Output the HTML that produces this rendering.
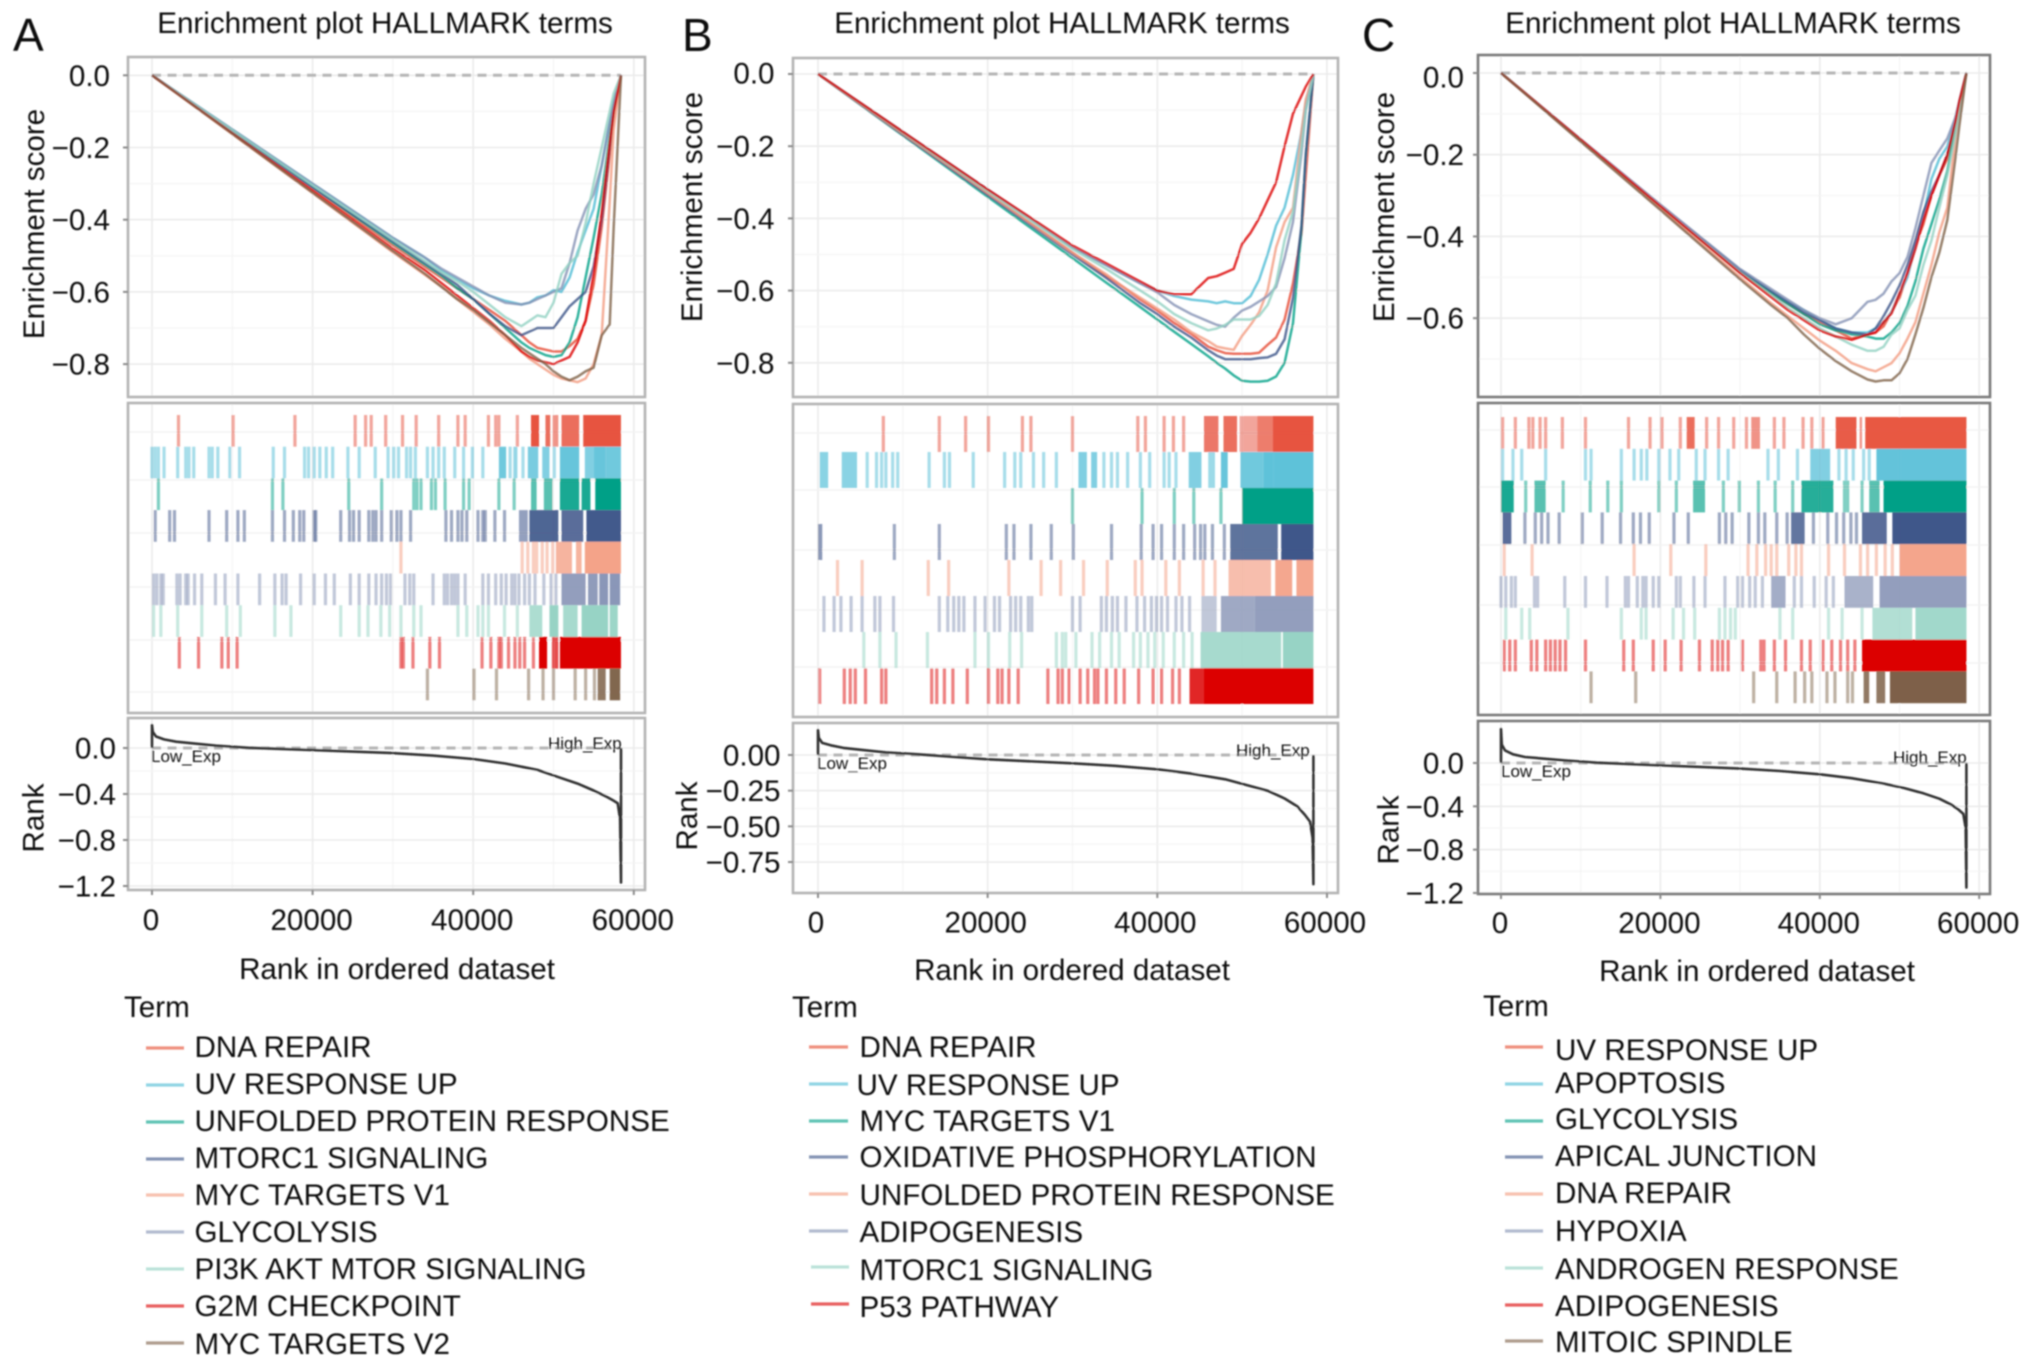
<!DOCTYPE html>
<html lang="en">
<head>
<meta charset="utf-8">
<title>Enrichment plots of HALLMARK terms</title>
<style>
html,body{margin:0;padding:0;background:#fff;}
svg{display:block;}
text{font-family:"Liberation Sans",Arial,sans-serif;fill:#111;font-size:29.6px;}
.ltr{font-size:46px;}
.ann{font-size:17px;}
.lg{stroke-width:3.2;opacity:.62;}
</style>
</head>
<body>
<svg id="fig" xmlns="http://www.w3.org/2000/svg" width="2032" height="1368" viewBox="0 0 2032 1368">
<defs><filter id="soft" filterUnits="userSpaceOnUse" x="0" y="0" width="2032" height="1368"><feGaussianBlur stdDeviation="0.7"/></filter></defs>
<rect width="2032" height="1368" fill="#fff"/>
<g id="root" filter="url(#soft)">
<g id="plotA"></g>
<g id="plotB"></g>
<g id="plotC"></g>

<text class="ltr" x="13" y="51">A</text>
<text class="ltr" x="682" y="51">B</text>
<text class="ltr" x="1362" y="51">C</text>

<text x="385" y="33" text-anchor="middle">Enrichment plot HALLMARK terms</text>
<text x="1062" y="33" text-anchor="middle">Enrichment plot HALLMARK terms</text>
<text x="1733" y="33" text-anchor="middle">Enrichment plot HALLMARK terms</text>

<text transform="translate(44,224) rotate(-90)" text-anchor="middle">Enrichment score</text>
<text transform="translate(702,207) rotate(-90)" text-anchor="middle">Enrichment score</text>
<text transform="translate(1394,207) rotate(-90)" text-anchor="middle">Enrichment score</text>
<text transform="translate(43.5,818) rotate(-90)" text-anchor="middle">Rank</text>
<text transform="translate(697,816) rotate(-90)" text-anchor="middle">Rank</text>
<text transform="translate(1398.5,830) rotate(-90)" text-anchor="middle">Rank</text>

<text x="397" y="979" text-anchor="middle">Rank in ordered dataset</text>
<text x="1072" y="980" text-anchor="middle">Rank in ordered dataset</text>
<text x="1757" y="981" text-anchor="middle">Rank in ordered dataset</text>

<text class="ann" x="151" y="762">Low_Exp</text>
<text class="ann" x="548" y="749">High_Exp</text>
<text class="ann" x="817" y="769">Low_Exp</text>
<text class="ann" x="1236" y="756">High_Exp</text>
<text class="ann" x="1501" y="777">Low_Exp</text>
<text class="ann" x="1893" y="763">High_Exp</text>

<g>
<text x="124" y="1017">Term</text>
<g><line class="lg" x1="146" x2="184" y1="1048" y2="1048" stroke="#E64B35"/><text x="194.5" y="1057">DNA REPAIR</text></g>
<g><line class="lg" x1="146" x2="184" y1="1085" y2="1085" stroke="#4DBBD5"/><text x="194.5" y="1094">UV RESPONSE UP</text></g>
<g><line class="lg" x1="146" x2="184" y1="1122" y2="1122" stroke="#00A087"/><text x="194.5" y="1131">UNFOLDED PROTEIN RESPONSE</text></g>
<g><line class="lg" x1="146" x2="184" y1="1159" y2="1159" stroke="#3C5488"/><text x="194.5" y="1168">MTORC1 SIGNALING</text></g>
<g><line class="lg" x1="146" x2="184" y1="1195" y2="1195" stroke="#F39B7F"/><text x="194.5" y="1205">MYC TARGETS V1</text></g>
<g><line class="lg" x1="146" x2="184" y1="1232" y2="1232" stroke="#8491B4"/><text x="194.5" y="1242">GLYCOLYSIS</text></g>
<g><line class="lg" x1="146" x2="184" y1="1269" y2="1269" stroke="#91D1C2"/><text x="194.5" y="1279">PI3K AKT MTOR SIGNALING</text></g>
<g><line class="lg" x1="146" x2="184" y1="1306" y2="1306" stroke="#DC0000"/><text x="194.5" y="1316">G2M CHECKPOINT</text></g>
<g><line class="lg" x1="146" x2="184" y1="1343" y2="1343" stroke="#7E6148"/><text x="194.5" y="1354">MYC TARGETS V2</text></g>
</g>

<g>
<text x="792" y="1017">Term</text>
<g><line class="lg" x1="809" x2="848" y1="1047" y2="1047" stroke="#E64B35"/><text x="859.5" y="1057">DNA REPAIR</text></g>
<g><line class="lg" x1="809" x2="848" y1="1084" y2="1084" stroke="#4DBBD5"/><text x="856.5" y="1095">UV RESPONSE UP</text></g>
<g><line class="lg" x1="809" x2="848" y1="1121" y2="1121" stroke="#00A087"/><text x="859.5" y="1131">MYC TARGETS V1</text></g>
<g><line class="lg" x1="809" x2="848" y1="1157" y2="1157" stroke="#3C5488"/><text x="859.5" y="1167">OXIDATIVE PHOSPHORYLATION</text></g>
<g><line class="lg" x1="809" x2="848" y1="1194" y2="1194" stroke="#F39B7F"/><text x="859.5" y="1205">UNFOLDED PROTEIN RESPONSE</text></g>
<g><line class="lg" x1="809" x2="848" y1="1231" y2="1231" stroke="#8491B4"/><text x="859.5" y="1242">ADIPOGENESIS</text></g>
<g><line class="lg" x1="811" x2="849" y1="1267" y2="1267" stroke="#91D1C2"/><text x="859.5" y="1280">MTORC1 SIGNALING</text></g>
<g><line class="lg" x1="811" x2="849" y1="1304" y2="1304" stroke="#DC0000"/><text x="859.5" y="1317">P53 PATHWAY</text></g>
</g>

<g>
<text x="1483" y="1016">Term</text>
<g><line class="lg" x1="1505" x2="1543" y1="1047" y2="1047" stroke="#E64B35"/><text x="1555" y="1060">UV RESPONSE UP</text></g>
<g><line class="lg" x1="1505" x2="1543" y1="1084" y2="1084" stroke="#4DBBD5"/><text x="1555" y="1093">APOPTOSIS</text></g>
<g><line class="lg" x1="1505" x2="1543" y1="1121" y2="1121" stroke="#00A087"/><text x="1555" y="1129">GLYCOLYSIS</text></g>
<g><line class="lg" x1="1505" x2="1543" y1="1157" y2="1157" stroke="#3C5488"/><text x="1555" y="1166">APICAL JUNCTION</text></g>
<g><line class="lg" x1="1505" x2="1543" y1="1194" y2="1194" stroke="#F39B7F"/><text x="1555" y="1203">DNA REPAIR</text></g>
<g><line class="lg" x1="1505" x2="1543" y1="1231" y2="1231" stroke="#8491B4"/><text x="1555" y="1241">HYPOXIA</text></g>
<g><line class="lg" x1="1505" x2="1543" y1="1268" y2="1268" stroke="#91D1C2"/><text x="1555" y="1279">ANDROGEN RESPONSE</text></g>
<g><line class="lg" x1="1505" x2="1543" y1="1305" y2="1305" stroke="#DC0000"/><text x="1555" y="1316">ADIPOGENESIS</text></g>
<g><line class="lg" x1="1505" x2="1543" y1="1341" y2="1341" stroke="#7E6148"/><text x="1555" y="1352">MITOIC SPINDLE</text></g>
</g>
</g>
</svg>

<script>
// ===== Shared axis data (ranks in thousands) =====
const xTickRanks = [0, 20, 40, 60];
const xTickLabels = ["0", "20000", "40000", "60000"];
const xMinorRanks = [10, 30, 50];
const esRanks = [0,10,20,30,34,36,38,40,42,44,46,47,48,49,50,51,52,53,54,55,56,57,57.5,58.4];
const rankCurveRanks = [0,0.1,0.5,1.5,3,8,12,20,30,35,40,44,48,50.5,53,55,56.5,57.4,58,58.3,58.4];

// ===== Panel A running enrichment scores =====
const esA_dnaRepair = [0,-.157,-.315,-.47,-.53,-.56,-.59,-.62,-.65,-.68,-.72,-.74,-.755,-.76,-.765,-.765,-.75,-.73,-.68,-.58,-.42,-.22,-.11,0];
const esA_uvResponseUp = [0,-.15,-.30,-.45,-.505,-.54,-.565,-.59,-.61,-.625,-.635,-.63,-.615,-.61,-.595,-.60,-.56,-.49,-.43,-.37,-.25,-.13,-.07,0];
const esA_unfoldedProtein = [0,-.155,-.31,-.465,-.525,-.555,-.59,-.62,-.66,-.70,-.74,-.755,-.765,-.775,-.78,-.775,-.74,-.67,-.56,-.45,-.33,-.17,-.09,0];
const esA_mtorc1 = [0,-.155,-.31,-.46,-.52,-.55,-.58,-.62,-.66,-.695,-.72,-.71,-.70,-.70,-.70,-.67,-.64,-.62,-.60,-.53,-.40,-.20,-.10,0];
const esA_mycV1 = [0,-.163,-.326,-.49,-.553,-.585,-.62,-.655,-.69,-.73,-.765,-.785,-.80,-.815,-.83,-.84,-.845,-.85,-.84,-.80,-.72,-.35,-.15,0];
const esA_glycolysis = [0,-.15,-.30,-.45,-.505,-.535,-.56,-.585,-.61,-.63,-.635,-.63,-.62,-.61,-.60,-.59,-.52,-.43,-.37,-.33,-.25,-.13,-.07,0];
const esA_pi3k = [0,-.152,-.305,-.455,-.515,-.545,-.57,-.60,-.635,-.67,-.695,-.68,-.665,-.67,-.63,-.55,-.52,-.50,-.41,-.30,-.20,-.10,-.05,0];
const esA_g2m = [0,-.16,-.32,-.48,-.54,-.575,-.61,-.645,-.68,-.72,-.765,-.78,-.79,-.795,-.80,-.79,-.78,-.74,-.68,-.55,-.38,-.19,-.10,0];
const esA_mycV2 = [0,-.162,-.325,-.487,-.55,-.585,-.62,-.65,-.685,-.72,-.755,-.77,-.785,-.80,-.82,-.835,-.845,-.835,-.82,-.81,-.72,-.69,-.42,0];

// ===== Panel B running enrichment scores =====
const esB_dnaRepair = [0,-.165,-.33,-.495,-.56,-.59,-.625,-.655,-.69,-.72,-.755,-.765,-.773,-.775,-.775,-.775,-.772,-.75,-.73,-.68,-.58,-.44,-.28,0];
const esB_uvResponseUp = [0,-.16,-.32,-.48,-.53,-.555,-.58,-.60,-.615,-.625,-.63,-.635,-.63,-.635,-.635,-.615,-.57,-.50,-.42,-.37,-.28,-.16,-.08,0];
const esB_mycV1 = [0,-.17,-.34,-.51,-.578,-.612,-.646,-.68,-.714,-.748,-.782,-.80,-.816,-.835,-.85,-.852,-.852,-.85,-.838,-.80,-.69,-.43,-.23,0];
const esB_oxphos = [0,-.168,-.335,-.50,-.565,-.60,-.635,-.665,-.70,-.73,-.765,-.78,-.79,-.79,-.79,-.79,-.787,-.785,-.775,-.735,-.62,-.42,-.22,0];
const esB_unfoldedProtein = [0,-.165,-.33,-.495,-.555,-.59,-.62,-.65,-.68,-.715,-.74,-.755,-.76,-.764,-.725,-.695,-.66,-.60,-.48,-.41,-.37,-.16,-.07,0];
const esB_adipogenesis = [0,-.16,-.32,-.48,-.53,-.555,-.58,-.605,-.64,-.665,-.685,-.695,-.70,-.675,-.655,-.645,-.63,-.615,-.59,-.51,-.41,-.22,-.10,0];
const esB_mtorc1 = [0,-.162,-.325,-.485,-.54,-.57,-.60,-.63,-.665,-.69,-.71,-.705,-.695,-.68,-.68,-.68,-.67,-.64,-.58,-.46,-.38,-.20,-.10,0];
const esB_p53 = [0,-.16,-.32,-.475,-.525,-.55,-.575,-.60,-.61,-.61,-.565,-.56,-.55,-.54,-.47,-.44,-.40,-.35,-.30,-.20,-.11,-.06,-.035,0];

// ===== Panel C running enrichment scores =====
const esC_uvResponseUp = [0,-.163,-.325,-.485,-.54,-.565,-.59,-.61,-.63,-.65,-.64,-.635,-.62,-.585,-.55,-.49,-.42,-.37,-.30,-.25,-.21,-.14,-.09,0];
const esC_apoptosis = [0,-.163,-.325,-.482,-.535,-.56,-.58,-.605,-.625,-.635,-.635,-.625,-.61,-.585,-.54,-.50,-.42,-.35,-.26,-.21,-.18,-.11,-.07,0];
const esC_glycolysis = [0,-.163,-.325,-.485,-.54,-.565,-.59,-.615,-.63,-.64,-.645,-.65,-.65,-.635,-.612,-.57,-.51,-.43,-.37,-.31,-.24,-.13,-.08,0];
const esC_apical = [0,-.163,-.325,-.482,-.535,-.56,-.585,-.605,-.625,-.635,-.64,-.625,-.595,-.56,-.52,-.47,-.41,-.34,-.29,-.25,-.20,-.12,-.07,0];
const esC_dnaRepair = [0,-.166,-.332,-.50,-.565,-.595,-.625,-.655,-.68,-.71,-.725,-.73,-.72,-.71,-.686,-.65,-.61,-.54,-.47,-.39,-.33,-.16,-.10,0];
const esC_hypoxia = [0,-.162,-.322,-.48,-.53,-.555,-.58,-.60,-.615,-.60,-.56,-.555,-.54,-.51,-.49,-.45,-.38,-.30,-.22,-.19,-.16,-.11,-.07,0];
const esC_androgen = [0,-.163,-.326,-.488,-.545,-.575,-.60,-.625,-.645,-.665,-.68,-.68,-.67,-.64,-.625,-.58,-.545,-.47,-.41,-.33,-.25,-.15,-.09,0];
const esC_adipogenesis = [0,-.163,-.326,-.49,-.55,-.58,-.605,-.63,-.645,-.653,-.64,-.635,-.61,-.588,-.54,-.49,-.43,-.36,-.30,-.25,-.20,-.12,-.07,0];
const esC_mitotic = [0,-.168,-.335,-.505,-.57,-.60,-.64,-.675,-.705,-.73,-.75,-.755,-.752,-.752,-.735,-.70,-.64,-.575,-.50,-.44,-.36,-.21,-.13,0];

// ===== Ranked metric curves =====
const rankCurveA = [.2,.14,.10,.075,.055,.02,.002,-.018,-.044,-.066,-.096,-.135,-.19,-.25,-.31,-.37,-.42,-.455,-.48,-.62,-1.17];
const rankCurveB = [.175,.12,.085,.068,.05,.018,.004,-.03,-.058,-.076,-.10,-.13,-.17,-.21,-.25,-.305,-.36,-.42,-.467,-.58,-.905];
const rankCurveC = [.315,.17,.116,.08,.055,.024,.003,-.021,-.052,-.074,-.104,-.14,-.19,-.23,-.28,-.33,-.385,-.43,-.47,-.6,-1.15];

// ===== Y tick values and labels =====
const esTicksA = [0,-.2,-.4,-.6,-.8];
const esTickLabelsA = ["0.0","\u22120.2","\u22120.4","\u22120.6","\u22120.8"];
const esMinorA = [-.1,-.3,-.5,-.7];
const esTicksB = [0,-.2,-.4,-.6,-.8];
const esTickLabelsB = ["0.0","\u22120.2","\u22120.4","\u22120.6","\u22120.8"];
const esMinorB = [-.1,-.3,-.5,-.7];
const esTicksC = [0,-.2,-.4,-.6];
const esTickLabelsC = ["0.0","\u22120.2","\u22120.4","\u22120.6"];
const esMinorC = [-.1,-.3,-.5,-.7];
const rankTicksA = [0,-.4,-.8,-1.2];
const rankTickLabelsA = ["0.0","\u22120.4","\u22120.8","\u22121.2"];
const rankMinorA = [-.2,-.6,-1.0];
const rankTicksB = [0,-.25,-.5,-.75];
const rankTickLabelsB = ["0.00","\u22120.25","\u22120.50","\u22120.75"];
const rankMinorB = [-.125,-.375,-.625];
const rankTicksC = [0,-.4,-.8,-1.2];
const rankTickLabelsC = ["0.0","\u22120.4","\u22120.8","\u22121.2"];
const rankMinorC = [-.2,-.6,-1.0];

// ===== Panel A rug hits (ranks in thousands); runs are [start,end,hit density] =====
const rugA_dnaRepair = [3.3,10.1,17.8,25.3,26.6,27.3,29.1,31.2,32.9,35.7,38.1,39.0,41.9,42.8,43.2,45.5];
const blocksA_dnaRepair = [[47.2,48.2,.95],[49.0,49.6,.8],[49.9,50.6,.6],[51.0,53.2,.8],[53.7,58.4,.95]];
const rugA_uvResponseUp = [0,.4,.8,1.5,3.2,4.2,4.6,5.2,7.1,7.5,8.2,9.7,10.9,15.1,16.5,19.0,19.5,20.2,20.9,21.7,22.5,24.4,25.8,27.8,29.4,30.1,30.7,31.7,32.2,32.8,34.3,35.0,35.7,36.4,37.7,38.8,39.9,41.2,44.6,46.2];
const blocksA_uvResponseUp = [[43.2,44.1,.8],[45.0,45.5,.6],[46.8,48.1,.75],[48.6,49.5,.7],[49.9,50.3,.5],[50.8,53.2,.85],[53.9,55,.7],[55,56.5,.85],[56.5,58.4,.8]];
const rugA_unfoldedProtein = [.8,15.0,16.3,24.5,28.6,32.6,33.0,33.5,34.8,35.3,36.5,38.8,39.5,43.2,45.1];
const blocksA_unfoldedProtein = [[47.2,47.9,.65],[48.8,49.9,.65],[50.8,53.2,.9],[53.5,54.6,.9],[55.2,58.4,1]];
const rugA_mtorc1 = [.4,2.2,2.8,7.1,9.3,10.7,11.5,15.0,16.5,17.6,18.4,18.9,20.2,20.4,23.5,24.6,25.1,25.8,27.0,27.5,27.9,28.6,29.8,30.5,31.0,32.2,36.6,37.3,38.1,38.6,39.2,40.6,41.2,41.5,42.7,43.9];
const blocksA_mtorc1 = [[45.7,46.8,.55],[47.0,50.6,.9],[51.0,53.7,.85],[54.1,58.4,.97]];
const rugA_mycV1 = [31.0,46.1,46.8,47.5,47.9,48.6,49.2,49.9];
const blocksA_mycV1 = [[50.3,52.3,.75],[52.8,53.5,.75],[53.9,58.4,.92]];
const rugA_glycolysis = [.2,.6,1.1,1.4,3.1,3.5,4.2,4.5,5.3,6.2,7.9,9.1,10.7,13.4,15.3,16.2,16.7,18.5,20.2,21.6,22.7,24.7,25.8,27.0,27.9,28.6,29.2,29.7,31.5,32.1,32.6,35.0,36.4,36.8,37.3,37.7,38.1,39.0,41.2,41.9,42.8,43.5,44.1,44.8,45.2,45.7,46.4,47.0,47.7,48.8,49.7,50.3];
const blocksA_glycolysis = [[51.0,54.0,.88],[54.3,55.5,.9],[55.7,56.8,.95],[57.0,58.3,.95]];
const rugA_pi3k = [.2,1.1,3.2,6.2,9.3,11.0,15.3,17.3,23.5,25.8,26.9,28.5,29.6,31.0,32.6,33.5,38.1,39.2,40.6,41.2,41.9,43.9,45.5];
const blocksA_pi3k = [[47.0,48.6,.75],[49.5,50.6,.95],[51.2,53.0,.8],[53.5,56.8,.95],[57.0,58.0,.9]];
const rugA_g2m = [3.4,5.8,8.7,9.5,10.6,31.0,31.3,32.5,34.6,35.8,41.1,42.2,43.2,43.5,44.4,45.2,45.8,46.4,47.5];
const blocksA_g2m = [[48.2,49.2,1],[49.8,50.6,.7],[50.8,58.4,1]];
const rugA_mycV2 = [34.3,40.1,42.9,46.9,48.7,50.0,52.7,54.0,55.1];
const blocksA_mycV2 = [[55.5,56.5,.85],[57.0,58.3,.97]];

// ===== Panel B rug hits =====
const rugB_dnaRepair = [7.7,14.3,17.4,20.1,24.1,25.1,30.0,37.7,38.6,40.8,41.9,43.1];
const blocksB_dnaRepair = [[45.5,47.2,.75],[47.8,49.4,.8],[49.7,51.8,.5],[51.8,53.6,.72],[53.6,58.4,.95]];
const rugB_uvResponseUp = [5.8,6.9,7.5,8.0,8.8,9.4,13.1,14.9,15.5,18.3,22.0,23.2,23.9,25.4,26.6,28.1,33.7,34.6,35.3,36.5,38.0,39.1,40.8,41.4,42.2];
const blocksB_uvResponseUp = [[.2,1.2,.65],[2.8,4.6,.65],[30.7,31.7,.7],[32.2,32.9,.7],[43.7,45.2,.7],[46.0,46.8,.55],[47.5,48.3,.85],[49.8,52.5,.8],[52.5,53.7,.9],[53.7,58.4,.9]];
const rugB_mycV1 = [30.0,38.2,42.0,44.3,47.5];
const blocksB_mycV1 = [[50.0,58.4,1]];
const rugB_oxphos = [9.0,14.3,22.2,23.1,25.1,27.5,30.1,34.6,38.1,39.5,40.5,42.0,43.1,44.4,45.1,45.6,46.5,47.9];
const blocksB_oxphos = [[0,.5,.6],[48.6,54.2,.82],[54.6,58.4,.98]];
const rugB_unfoldedProtein = [2.3,5.2,13.0,15.4,22.5,26.3,28.6,31.3,34.1,37.4,38.2,41.0,42.6,45.4,46.8];
const blocksB_unfoldedProtein = [[48.4,53.4,.65],[53.9,55.9,.88],[56.4,58.4,.88]];
const rugB_adipogenesis = [.7,1.9,2.7,3.9,5.2,6.7,7.3,8.9,14.3,15.3,16.0,16.6,17.2,18.5,19.7,20.8,21.4,22.7,23.3,23.9,24.8,25.2,30.0,30.9,33.4,34.0,34.7,35.3,36.3,37.6,38.5,39.3,39.9,40.5,41.2,42.2,42.9,43.8];
const blocksB_adipogenesis = [[45.2,47,.5],[47.5,51.5,.78],[51.5,58.4,.88]];
const rugB_mtorc1 = [5.4,7.3,9.2,12.9,18.5,20.1,22.6,24.0,28.1,28.8,29.2,30.4,32.3,33.2,34.6,35.5,37.2,38.0,38.9,39.7,40.7,42.0,43.1,44.1];
const blocksB_mtorc1 = [[45.1,54.6,.8],[54.8,58.4,.95]];
const rugB_p53 = [.2,3.1,3.8,4.4,5.6,7.5,8.0,13.4,14.0,14.9,15.9,17.6,20.1,21.2,21.7,22.5,23.6,27.1,28.3,28.8,29.6,30.9,31.8,32.6,33.0,34.0,35.1,36.1,37.8,39.5,40.5,41.8,42.6];
const blocksB_p53 = [[43.8,45.5,.85],[45.5,58.4,1]];

// ===== Panel C rug hits =====
const rugC_uvResponseUp = [.2,1.8,3.5,4.0,4.9,5.6,7.7,10.6,16.0,18.7,20.2,22.5,25.8,27.3,29.2,30.8,34.3,35.5,37.9,39.0,40.4];
const blocksC_uvResponseUp = [[23.3,24.3,.8],[31.4,32.5,.6],[42.0,44.6,.9],[45.0,45.3,.6],[45.7,58.4,.93]];
const rugC_apoptosis = [.2,1.5,2.6,5.6,10.6,11.3,15.1,16.7,17.6,18.3,19.8,21.2,22.3,24.5,25.6,27.3,28.5,33.5,34.8,37.2,42.4,43.3,44.2,45.5,46.2];
const blocksC_apoptosis = [[38.8,41.3,.7],[47.1,58.4,.88]];
const rugC_glycolysis = [3.1,7.8,11.2,13.4,15.1,19.8,22.0,27.9,29.9,32.3,34.4,36.6,43.1,43.5,45.3];
const blocksC_glycolysis = [[0,1.6,.9],[4.2,5.6,.65],[24.1,25.6,.65],[37.7,41.7,.85],[46.2,47.5,.65],[48.0,58.4,1]];
const rugC_apical = [3.0,4.3,5.1,5.9,7.3,10.2,12.7,15.0,16.6,17.5,18.6,21.7,23.5,27.4,28.2,29.0,31.1,32.3,33.1,34.6,35.9,39.2,41.0,42.1,43.0,43.9,44.6];
const blocksC_apical = [[.2,1.3,.85],[36.4,38.1,.8],[45.3,48.4,.85],[49.1,58.4,.98]];
const rugC_dnaRepair = [.4,3.9,16.7,21.3,25.7,31.0,32.1,33.2,33.9,34.6,36.1,37.0,37.7,41.1,43.1,45.1,46.0,47.1,48.2,49.1];
const blocksC_dnaRepair = [[50.0,58.4,.9]];
const rugC_hypoxia = [0,.6,1.3,1.8,4.2,4.6,8.0,10.6,13.3,15.6,16.0,17.1,17.8,18.2,19.1,19.8,22.0,22.5,24.2,25.6,28.1,29.7,30.3,31.2,31.9,32.8,36.8,37.7,39.3,40.8,41.7];
const blocksC_hypoxia = [[33.9,35.7,.75],[43.1,46.7,.7],[47.5,58.4,.88]];
const rugC_androgen = [.6,2.6,3.6,8.4,15.1,17.6,18.2,21.6,22.9,24.3,27.4,28.1,28.8,29.4,35.0,36.6,41.1,42.8,45.3];
const blocksC_androgen = [[46.6,51.6,.7],[52.0,58.4,.85]];
const rugC_adipogenesis = [.4,1.1,1.8,3.8,4.5,5.6,6.2,6.8,7.4,8.1,10.6,15.4,16.6,19.1,20.6,22.6,24.9,26.5,27.2,27.8,28.5,30.3,32.6,33.0,34.3,35.7,37.7,38.8,40.4,41.5,42.6,43.5,44.4];
const blocksC_adipogenesis = [[45.3,58.4,1]];
const rugC_mitotic = [11.3,16.9,31.7,34.6,36.9,38.1,39.0,40.9,41.9,43.5,44.1];
const blocksC_mitotic = [[45.5,46.2,.85],[47.1,48.2,.85],[48.8,58.4,1]];

// ===== Palette and layout (not data) =====
const npg = ["#E64B35","#4DBBD5","#00A087","#3C5488","#F39B7F","#8491B4","#91D1C2","#DC0000","#7E6148"];
const NS = "http://www.w3.org/2000/svg";

const panels = [
  { id:"plotA", key:"a", border:"#b4b4b4", x0:152, perK:8.03, xLabelDx:-1,
    L:128, R:645,
    top:{T:57,B:397,y0:75.3,perUnit:361,lblR:110,firstNudge:0},
    mid:{T:403,B:713,rowTop:415,rowH:31.7,grid:[432,480,533,587,640,692]},
    bot:{T:718,B:890,y0:748,perUnit:115,lblR:116,firstNudge:0},
    xLabelY:930,
    es:[esA_dnaRepair,esA_uvResponseUp,esA_unfoldedProtein,esA_mtorc1,esA_mycV1,esA_glycolysis,esA_pi3k,esA_g2m,esA_mycV2],
    rugs:[rugA_dnaRepair,rugA_uvResponseUp,rugA_unfoldedProtein,rugA_mtorc1,rugA_mycV1,rugA_glycolysis,rugA_pi3k,rugA_g2m,rugA_mycV2],
    blocks:[blocksA_dnaRepair,blocksA_uvResponseUp,blocksA_unfoldedProtein,blocksA_mtorc1,blocksA_mycV1,blocksA_glycolysis,blocksA_pi3k,blocksA_g2m,blocksA_mycV2],
    rankCurve:rankCurveA, esTicks:esTicksA, esLabels:esTickLabelsA, esMinor:esMinorA,
    rankTicks:rankTicksA, rankLabels:rankTickLabelsA, rankMinor:rankMinorA },
  { id:"plotB", key:"b", border:"#b4b4b4", x0:818, perK:8.483, xLabelDx:-2,
    L:793, R:1338,
    top:{T:58,B:397,y0:74,perUnit:361,lblR:774.5,firstNudge:-1},
    mid:{T:404,B:717,rowTop:416,rowH:36,grid:[433,490,550,610,667]},
    bot:{T:723,B:893,y0:755,perUnit:142.7,lblR:780.5,firstNudge:0},
    xLabelY:932.5,
    es:[esB_dnaRepair,esB_uvResponseUp,esB_mycV1,esB_oxphos,esB_unfoldedProtein,esB_adipogenesis,esB_mtorc1,esB_p53],
    rugs:[rugB_dnaRepair,rugB_uvResponseUp,rugB_mycV1,rugB_oxphos,rugB_unfoldedProtein,rugB_adipogenesis,rugB_mtorc1,rugB_p53],
    blocks:[blocksB_dnaRepair,blocksB_uvResponseUp,blocksB_mycV1,blocksB_oxphos,blocksB_unfoldedProtein,blocksB_adipogenesis,blocksB_mtorc1,blocksB_p53],
    rankCurve:rankCurveB, esTicks:esTicksB, esLabels:esTickLabelsB, esMinor:esMinorB,
    rankTicks:rankTicksB, rankLabels:rankTickLabelsB, rankMinor:rankMinorB },
  { id:"plotC", key:"c", border:"#7a7a7a", x0:1501, perK:7.97, xLabelDx:-1,
    L:1478, R:1990,
    top:{T:55,B:397,y0:73,perUnit:408.6,lblR:1464,firstNudge:4},
    mid:{T:403,B:715,rowTop:417,rowH:31.8,grid:[430,487,545,605,663]},
    bot:{T:721,B:894,y0:763,perUnit:108.3,lblR:1464,firstNudge:0},
    xLabelY:933,
    es:[esC_uvResponseUp,esC_apoptosis,esC_glycolysis,esC_apical,esC_dnaRepair,esC_hypoxia,esC_androgen,esC_adipogenesis,esC_mitotic],
    rugs:[rugC_uvResponseUp,rugC_apoptosis,rugC_glycolysis,rugC_apical,rugC_dnaRepair,rugC_hypoxia,rugC_androgen,rugC_adipogenesis,rugC_mitotic],
    blocks:[blocksC_uvResponseUp,blocksC_apoptosis,blocksC_glycolysis,blocksC_apical,blocksC_dnaRepair,blocksC_hypoxia,blocksC_androgen,blocksC_adipogenesis,blocksC_mitotic],
    rankCurve:rankCurveC, esTicks:esTicksC, esLabels:esTickLabelsC, esMinor:esMinorC,
    rankTicks:rankTicksC, rankLabels:rankTickLabelsC, rankMinor:rankMinorC }
];

function make(tag, attrs, parent) {
  const el = document.createElementNS(NS, tag);
  for (const k in attrs) el.setAttribute(k, attrs[k]);
  parent.appendChild(el);
  return el;
}

function xScale(p, rankK) { return p.x0 + rankK * p.perK; }
function yScale(f, value) { return f.y0 - value * f.perUnit; }

function drawGridV(p, g, T, B) {
  xTickRanks.forEach(function (r) {
    const el = make("line", {x1:xScale(p,r), x2:xScale(p,r), y1:T, y2:B, stroke:"#ebebeb", "stroke-width":1.6}, g);
    
    
  });
  xMinorRanks.forEach(function (r) {
    const el = make("line", {x1:xScale(p,r), x2:xScale(p,r), y1:T, y2:B, stroke:"#f4f4f4", "stroke-width":1.2}, g);
    
    
  });
}

function drawGridH(p, g, f, ticks, minor) {
  ticks.forEach(function (v) {
    const el = make("line", {x1:p.L, x2:p.R, y1:yScale(f,v), y2:yScale(f,v), stroke:"#ebebeb", "stroke-width":1.6}, g);
    
    
  });
  minor.forEach(function (v) {
    const el = make("line", {x1:p.L, x2:p.R, y1:yScale(f,v), y2:yScale(f,v), stroke:"#f4f4f4", "stroke-width":1.2}, g);
    
    
  });
}

function drawFrame(p, g, T, B) {
  const el = make("rect", {x:p.L, y:T, width:p.R-p.L, height:B-T, fill:"none", stroke:p.border, "stroke-width":2.6}, g);
  
  
}

function drawYTicks(p, g, f, ticks, labels) {
  ticks.forEach(function (v, i) {
    const y = yScale(f, v);
    const tick = make("line", {x1:p.L-5, x2:p.L, y1:y, y2:y, stroke:"#8a8a8a", "stroke-width":2}, g);
    
    
    const nudge = i === 0 ? f.firstNudge : 0;
    const t = make("text", {x:f.lblR, y:y+10.5+nudge, "text-anchor":"end"}, g);
    t.textContent = labels[i];
    
    
  });
}

function drawZero(p, g, f) {
  const end = esRanks[esRanks.length - 1];
  const el = make("line", {x1:xScale(p,0), x2:xScale(p,end), y1:yScale(f,0), y2:yScale(f,0), stroke:"#b5b5b5", "stroke-width":3, "stroke-dasharray":"9 6.5"}, g);
  
  
}

function drawPanel(p) {
  const g = document.getElementById(p.id);

  // Top panel: running enrichment score
  drawGridV(p, g, p.top.T, p.top.B);
  drawGridH(p, g, p.top, p.esTicks, p.esMinor);
  drawZero(p, g, p.top);
  p.es.forEach(function (series, i) {
    const d = series.map(function (v, j) {
      return (j ? "L" : "M") + xScale(p, esRanks[j]).toFixed(1) + " " + yScale(p.top, v).toFixed(1);
    }).join("");
    const el = make("path", {d:d, fill:"none", stroke:npg[i], "stroke-width":2.5, "stroke-opacity":.8, "stroke-linejoin":"round"}, g);
    
    
  });
  drawFrame(p, g, p.top.T, p.top.B);
  drawYTicks(p, g, p.top, p.esTicks, p.esLabels);

  // Middle panel: hit rug
  drawGridV(p, g, p.mid.T, p.mid.B);
  p.mid.grid.forEach(function (y) {
    const el = make("line", {x1:p.L, x2:p.R, y1:y, y2:y, stroke:"#f3f3f3", "stroke-width":1.4}, g);
    
    
  });
  p.rugs.forEach(function (hits, i) {
    const top = p.mid.rowTop + i * p.mid.rowH;
    hits.forEach(function (r) {
      const el = make("rect", {x:xScale(p,r)-1.6, y:top, width:3.2, height:p.mid.rowH, fill:npg[i], "fill-opacity":.5}, g);
      
      
    });
    p.blocks[i].forEach(function (b) {
      const x1 = xScale(p, b[0]), x2 = xScale(p, b[1]);
      const el = make("rect", {x:x1, y:top, width:x2-x1, height:p.mid.rowH, fill:npg[i], "fill-opacity":b[2]}, g);
      
      
    });
  });
  drawFrame(p, g, p.mid.T, p.mid.B);

  // Bottom panel: ranked list metric
  drawGridV(p, g, p.bot.T, p.bot.B);
  drawGridH(p, g, p.bot, p.rankTicks, p.rankMinor);
  drawZero(p, g, p.bot);
  const n = p.rankCurve.length;
  const startX = xScale(p, rankCurveRanks[0]), endX = xScale(p, rankCurveRanks[n-1]);
  let rd = "M" + startX.toFixed(1) + " " + yScale(p.bot, 0).toFixed(1);
  p.rankCurve.forEach(function (v, j) {
    rd += "L" + xScale(p, rankCurveRanks[j]).toFixed(1) + " " + yScale(p.bot, v).toFixed(1);
  });
  rd += "L" + endX.toFixed(1) + " " + yScale(p.bot, 0).toFixed(1);
  const rc = make("path", {d:rd, fill:"none", stroke:"#333", "stroke-width":2.6, "stroke-linejoin":"round"}, g);
  
  
  drawFrame(p, g, p.bot.T, p.bot.B);
  drawYTicks(p, g, p.bot, p.rankTicks, p.rankLabels);

  // Shared x axis
  xTickRanks.forEach(function (r, i) {
    const x = xScale(p, r);
    const tick = make("line", {x1:x, x2:x, y1:p.bot.B, y2:p.bot.B+5, stroke:"#8a8a8a", "stroke-width":2}, g);
    
    
    const t = make("text", {x:x+p.xLabelDx, y:p.xLabelY, "text-anchor":"middle"}, g);
    t.textContent = xTickLabels[i];
    
    
  });
}

panels.forEach(drawPanel);
</script>
</body>
</html>
